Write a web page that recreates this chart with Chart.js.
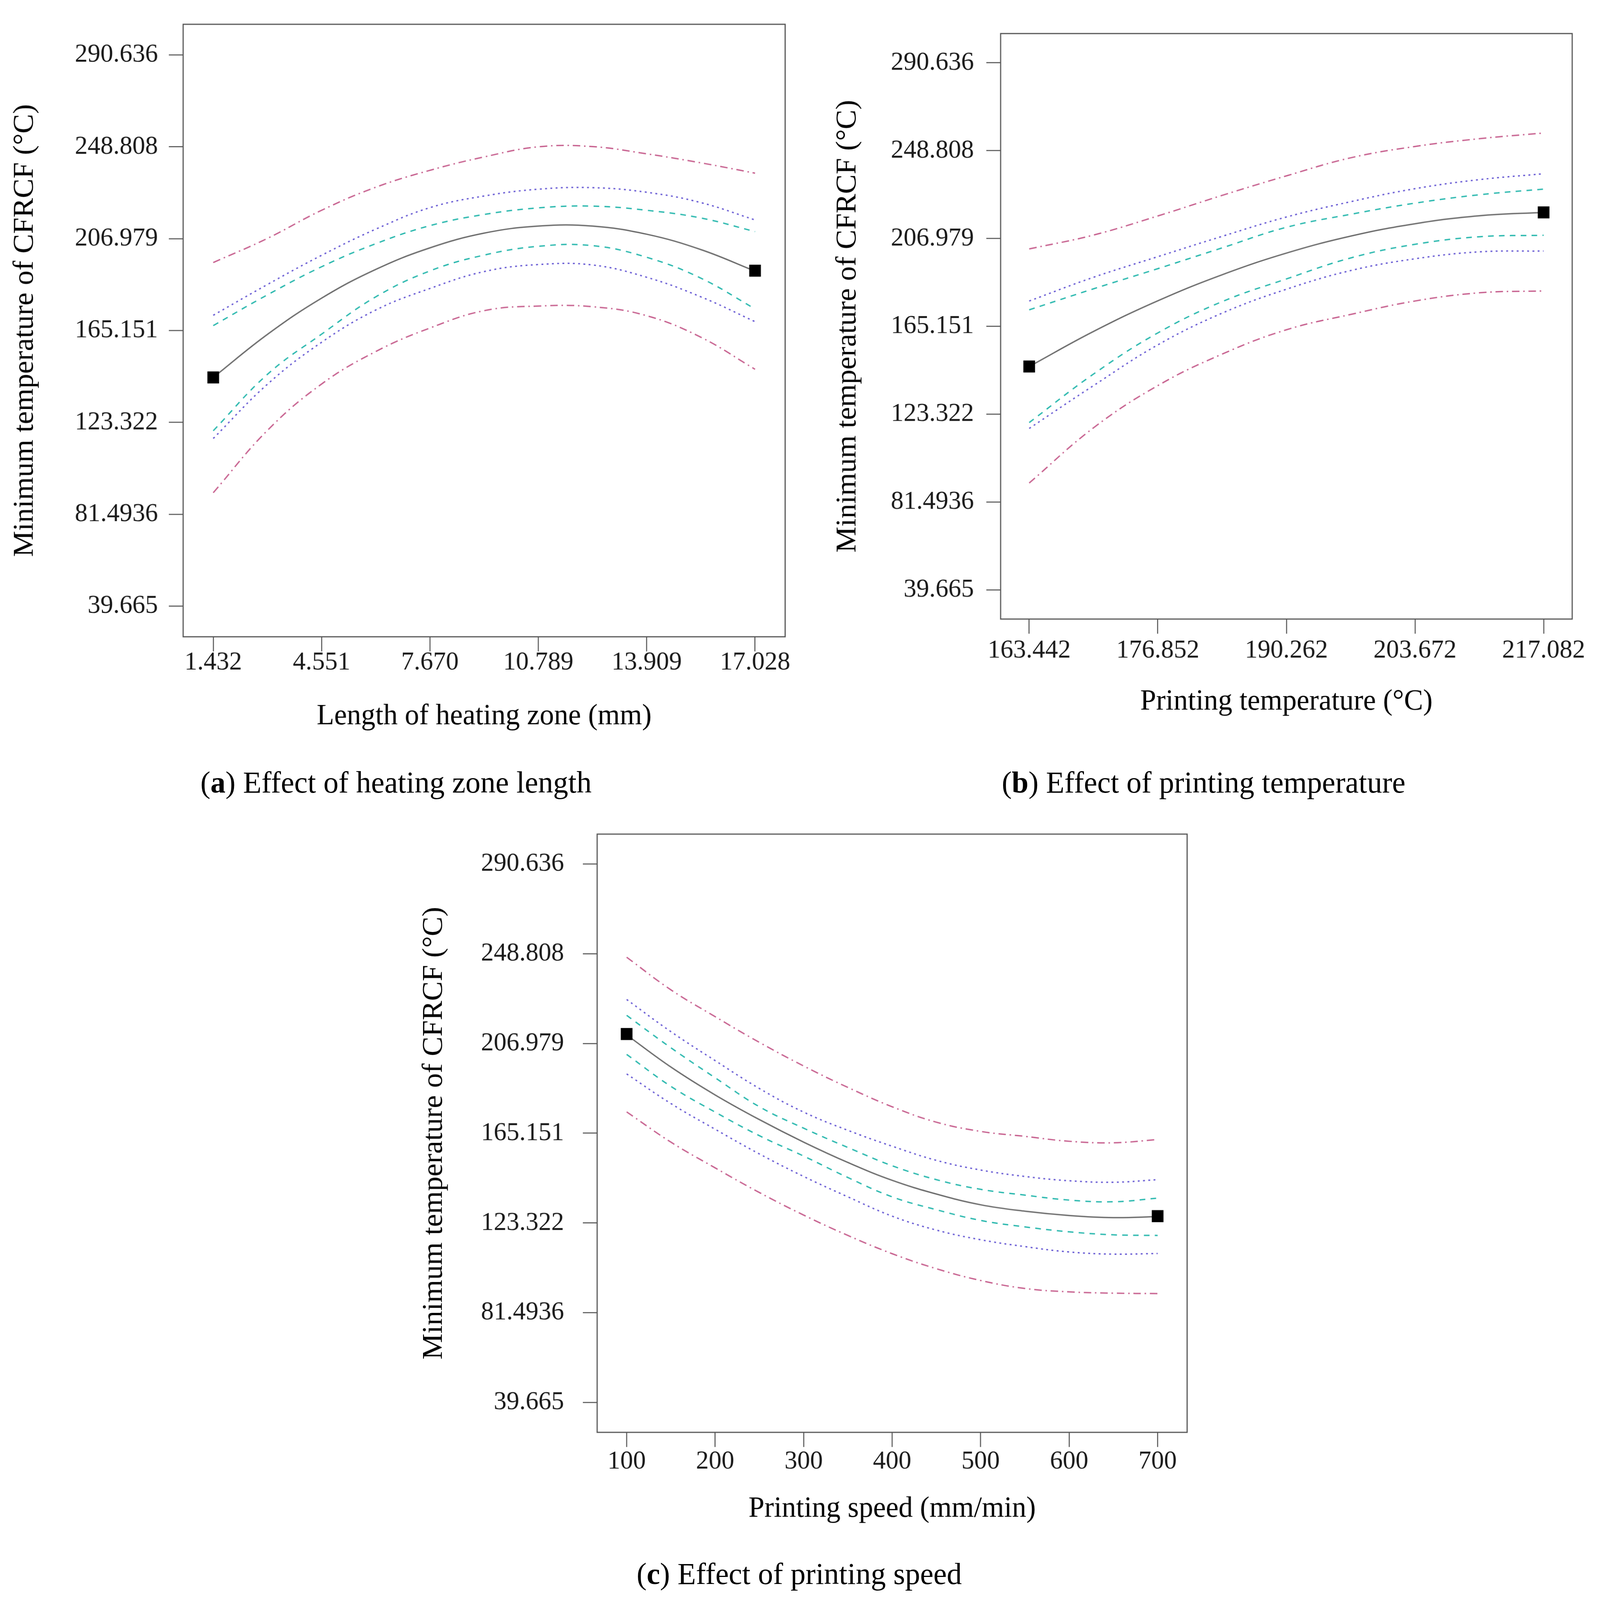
<!DOCTYPE html>
<html>
<head>
<meta charset="utf-8">
<script src="https://cdn.jsdelivr.net/npm/chart.js@4.4.0/dist/chart.umd.min.js"></script>
<style>
  html, body { margin: 0; background: #fff; overflow: hidden; }
  #page { position: relative; width: 4255px; height: 4151px; background: #fff; transform-origin: 0 0; }
  canvas { position: absolute; }
  .cap { position: absolute; font-family: 'Liberation Serif', 'Times New Roman', serif; font-size: 80px; line-height: 80px; color: #000; white-space: nowrap; }
</style>
</head>
<body>
<div id="page">
  <canvas id="chartA" width="2200" height="1915" style="left:0px;top:0px"></canvas>
  <canvas id="chartB" width="2055" height="1877" style="left:2200px;top:0px"></canvas>
  <canvas id="chartC" width="2200" height="1891" style="left:1080px;top:2080px"></canvas>
  <div class="cap" style="left:533px;top:1989px">(<b>a</b>) Effect of heating zone length</div>
  <div class="cap" style="left:2664px;top:1989px">(<b>b</b>) Effect of printing temperature</div>
  <div class="cap" style="left:1693px;top:4042px">(<b>c</b>) Effect of printing speed</div>
</div>
<script>
// eje Y comun a las tres graficas
const yTicks = [39.665, 81.4936, 123.322, 165.151, 206.979, 248.808, 290.636];
const yTickLabels = ['39.665', '81.4936', '123.322', '165.151', '206.979', '248.808', '290.636'];
const yTitle = 'Minimum temperature of CFRCF (\u00B0C)';

// (a) longitud de la zona de calentamiento
const heatTicks = [1.432, 4.551, 7.670, 10.789, 13.909, 17.028];
const heatTickLabels = ['1.432', '4.551', '7.670', '10.789', '13.909', '17.028'];
const heatX = [1.432, 2.992, 4.551, 6.111, 7.670, 9.230, 10.789, 12.349, 13.909, 15.468, 17.028];
const heatMean = [143.8, 163.4, 179.9, 193.0, 202.8, 209.5, 212.7, 212.7, 209.0, 202.0, 192.2];
const heatInnerHigh = [167.4, 181.4, 194.2, 204.7, 212.9, 218.0, 221.0, 221.8, 219.9, 216.4, 210.2];
const heatInnerLow = [119.5, 145.2, 163.5, 180.5, 192.3, 199.5, 203.5, 203.8, 198.5, 189.0, 175.0];
const heatMidHigh = [172.1, 186.1, 199.4, 211.3, 221.1, 226.4, 229.5, 230.2, 228.1, 223.4, 215.5];
const heatMidLow = [116.0, 140.7, 159.8, 174.5, 184.3, 192.0, 195.2, 195.0, 189.4, 180.5, 169.2];
const heatOuterHigh = [196.1, 207.1, 219.9, 230.4, 238.1, 244.2, 248.8, 248.9, 245.6, 241.5, 236.8];
const heatOuterLow = [91.3, 119.7, 140.8, 155.6, 166.3, 174.2, 176.3, 176.0, 171.9, 162.1, 147.5];
const heatDesignX = [1.432, 17.028];
const heatDesignY = [143.8, 192.4];

// (b) temperatura de impresion
const tempTicks = [163.442, 176.852, 190.262, 203.672, 217.082];
const tempTickLabels = ['163.442', '176.852', '190.262', '203.672', '217.082'];
const tempX = [163.442, 170.147, 176.852, 183.557, 190.262, 196.967, 203.672, 210.377, 217.082];
const tempMean = [146.0, 162.7, 177.3, 189.7, 200.0, 208.1, 214.0, 217.8, 219.4];
const tempInnerHigh = [173.0, 183.0, 192.6, 202.5, 212.3, 218.5, 223.8, 227.8, 230.5];
const tempInnerLow = [119.3, 142.4, 162.0, 176.9, 187.7, 197.7, 204.2, 207.8, 208.5];
const tempMidHigh = [177.2, 188.5, 198.3, 208.0, 217.2, 224.5, 230.7, 235.0, 237.8];
const tempMidLow = [116.5, 136.9, 156.3, 171.4, 182.8, 191.7, 197.3, 200.6, 201.0];
const tempOuterHigh = [202.0, 208.6, 217.7, 227.5, 236.8, 245.4, 250.8, 254.5, 257.2];
const tempOuterLow = [90.5, 116.8, 136.9, 151.9, 163.5, 170.8, 177.2, 181.1, 182.0];
const tempDesignX = [163.442, 217.082];
const tempDesignY = [146.0, 219.4];

// (c) velocidad de impresion
const speedTicks = [100, 200, 300, 400, 500, 600, 700];
const speedTickLabels = ['100', '200', '300', '400', '500', '600', '700'];
const speedX = [100, 150, 200, 250, 300, 350, 400, 450, 500, 550, 600, 650, 700];
const speedMean = [211.0, 196.0, 183.0, 171.5, 161.0, 151.5, 143.2, 136.8, 131.8, 128.8, 126.8, 125.8, 126.3];
const speedInnerHigh = [220.1, 205.0, 191.0, 177.5, 167.5, 158.5, 150.0, 143.5, 139.0, 136.3, 134.0, 133.2, 134.9];
const speedInnerLow = [201.9, 187.0, 175.0, 164.0, 154.5, 144.5, 135.5, 129.5, 124.5, 121.5, 119.2, 117.8, 117.5];
const speedMidHigh = [227.5, 212.5, 199.0, 186.0, 175.0, 166.5, 159.1, 152.5, 148.0, 145.0, 143.0, 142.3, 143.5];
const speedMidLow = [192.8, 179.0, 167.0, 155.5, 145.0, 135.5, 126.5, 120.0, 115.5, 112.3, 109.8, 108.8, 109.1];
const speedOuterHigh = [247.2, 232.0, 219.5, 207.5, 196.5, 186.5, 177.5, 170.3, 166.0, 163.7, 161.4, 160.7, 162.2];
const speedOuterLow = [175.1, 161.0, 149.0, 137.5, 127.0, 117.5, 109.0, 102.0, 96.5, 92.8, 91.2, 90.6, 90.4];
const speedDesignX = [100, 700];
const speedDesignY = [211.4, 126.5];

// si la ventana es mas chica que la figura, la escalamos para que entre completa
const page = document.getElementById('page');
const sx = Math.min(1, window.innerWidth / 4255);
const sy = Math.min(1, window.innerHeight / 4151);
page.style.transform = 'scale(' + sx + ',' + sy + ')';

Chart.defaults.font.family = "'Liberation Serif', 'Times New Roman', serif";
Chart.defaults.color = '#1a1a1a';

const colGray = '#6e6e6e';
const colCyan = 'rgb(45, 185, 175)';
const colBlue = 'rgb(105, 92, 212)';
const colPink = 'rgb(200, 100, 145)';

// marco completo alrededor del area de la grafica
const frame = {
  id: 'frame',
  beforeDatasetsDraw(chart) {
    const {ctx, chartArea: a} = chart;
    ctx.save();
    ctx.strokeStyle = '#555';
    ctx.lineWidth = 3;
    ctx.strokeRect(a.left, a.top, a.right - a.left, a.bottom - a.top);
    ctx.restore();
  }
};

function curve(xs, ys, color, dash, order) {
  return {
    data: xs.map((x, i) => ({x: x, y: ys[i]})),
    borderColor: color,
    borderWidth: 3.5,
    borderDash: dash,
    pointRadius: 0,
    tension: 0.4,
    fill: false,
    order: order
  };
}

function squares(xs, ys) {
  return {
    data: xs.map((x, i) => ({x: x, y: ys[i]})),
    showLine: false,
    pointStyle: 'rect',
    pointRadius: 22,
    pointBackgroundColor: '#000',
    pointBorderColor: '#000',
    pointBorderWidth: 0,
    order: 0
  };
}

// p = medidas de cada panel (en pixeles del lienzo)
function makeChart(id, p, s) {
  const xPad = (s.ticks[s.ticks.length - 1] - s.ticks[0]) / 18;
  const yPad = (yTicks[yTicks.length - 1] - yTicks[0]) / 18;
  return new Chart(document.getElementById(id), {
    type: 'line',
    data: {
      datasets: [
        squares(s.designX, s.designY),
        curve(s.x, s.mean, colGray, [], 1),
        curve(s.x, s.innerHigh, colCyan, [15, 14], 2),
        curve(s.x, s.innerLow, colCyan, [15, 14], 2),
        curve(s.x, s.midHigh, colBlue, [5, 9], 3),
        curve(s.x, s.midLow, colBlue, [5, 9], 3),
        curve(s.x, s.outerHigh, colPink, [20, 10, 4, 10], 4),
        curve(s.x, s.outerLow, colPink, [20, 10, 4, 10], 4)
      ]
    },
    options: {
      responsive: false,
      animation: false,
      devicePixelRatio: 1,
      layout: { padding: { top: p.top, right: p.right, bottom: 0, left: 0 } },
      plugins: { legend: { display: false }, tooltip: { enabled: false } },
      scales: {
        x: {
          type: 'linear',
          min: s.ticks[0] - xPad,
          max: s.ticks[s.ticks.length - 1] + xPad,
          afterBuildTicks: sc => { sc.ticks = s.ticks.map(v => ({value: v})); },
          afterFit: sc => { sc.height = p.xHeight; },
          ticks: {
            callback: (v, i) => s.tickLabels[i],
            autoSkip: false, maxRotation: 0,
            padding: p.xTickPad,
            font: { size: 68, lineHeight: 1 }
          },
          grid: { drawOnChartArea: false, drawTicks: true, tickLength: 38, tickWidth: 3, tickColor: '#666' },
          border: { display: false },
          title: { display: true, text: s.xTitle, color: '#000', font: { size: 76 }, padding: { top: 0, bottom: 10 } }
        },
        y: {
          type: 'linear',
          min: yTicks[0] - yPad,
          max: yTicks[yTicks.length - 1] + yPad,
          afterBuildTicks: sc => { sc.ticks = yTicks.map(v => ({value: v})); },
          afterFit: sc => { sc.width = p.yWidth; },
          ticks: {
            callback: (v, i) => yTickLabels[i],
            autoSkip: false,
            padding: p.yTickPad,
            font: { size: 68, lineHeight: 1 }
          },
          grid: { drawOnChartArea: false, drawTicks: true, tickLength: 38, tickWidth: 3, tickColor: '#666' },
          border: { display: false },
          title: { display: true, text: yTitle, color: '#000', font: { size: 76 }, padding: { top: p.yTitlePad, bottom: 0 } }
        }
      }
    },
    plugins: [frame]
  });
}

const chartA = makeChart('chartA',
  { top: 51, right: 112, yWidth: 487, xHeight: 263, xTickPad: -5, yTickPad: 29, yTitlePad: 21 },
  { ticks: heatTicks, tickLabels: heatTickLabels, x: heatX, mean: heatMean,
    innerHigh: heatInnerHigh, innerLow: heatInnerLow, midHigh: heatMidHigh, midLow: heatMidLow,
    outerHigh: heatOuterHigh, outerLow: heatOuterLow, designX: heatDesignX, designY: heatDesignY,
    xTitle: 'Length of heating zone (mm)' });

const chartB = makeChart('chartB',
  { top: 87, right: 74, yWidth: 461, xHeight: 271, xTickPad: 10, yTickPad: 33, yTitlePad: 9 },
  { ticks: tempTicks, tickLabels: tempTickLabels, x: tempX, mean: tempMean,
    innerHigh: tempInnerHigh, innerLow: tempInnerLow, midHigh: tempMidHigh, midLow: tempMidLow,
    outerHigh: tempOuterHigh, outerLow: tempOuterLow, designX: tempDesignX, designY: tempDesignY,
    xTitle: 'Printing temperature (\u00B0C)' });

const chartC = makeChart('chartC',
  { top: 71, right: 123, yWidth: 508, xHeight: 255, xTickPad: 4, yTickPad: 50, yTitlePad: 29 },
  { ticks: speedTicks, tickLabels: speedTickLabels, x: speedX, mean: speedMean,
    innerHigh: speedInnerHigh, innerLow: speedInnerLow, midHigh: speedMidHigh, midLow: speedMidLow,
    outerHigh: speedOuterHigh, outerLow: speedOuterLow, designX: speedDesignX, designY: speedDesignY,
    xTitle: 'Printing speed (mm/min)' });
</script>
</body>
</html>
